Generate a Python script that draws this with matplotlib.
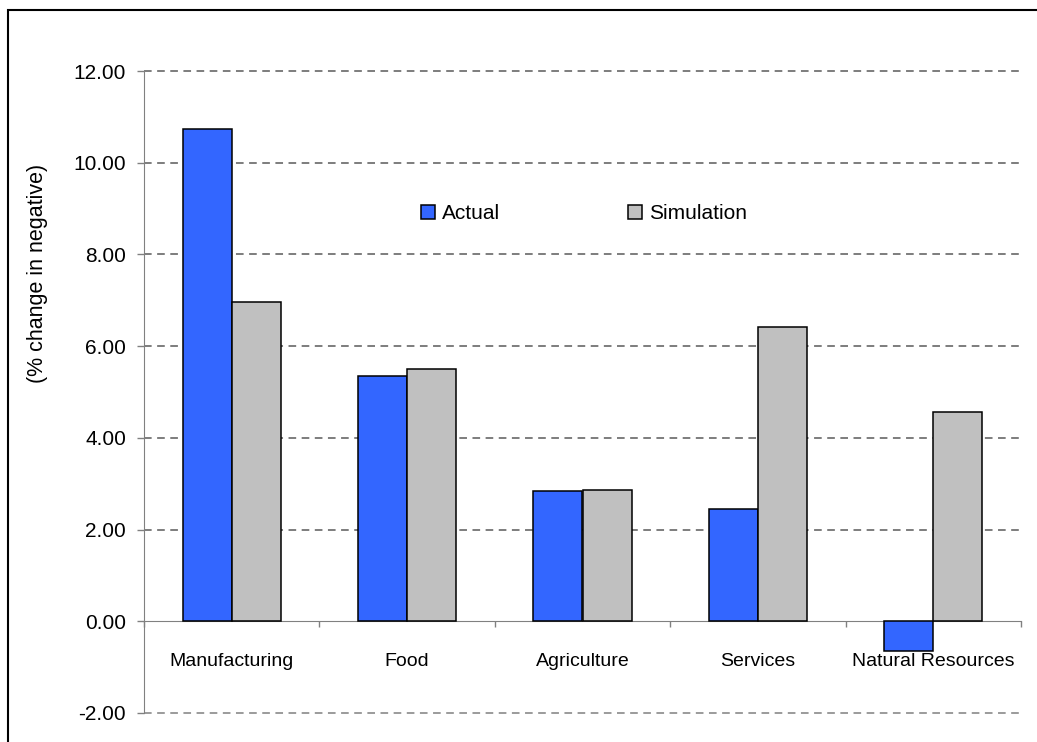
import matplotlib
matplotlib.use("Agg")
import matplotlib.pyplot as plt
from matplotlib.lines import Line2D
from matplotlib.patches import Rectangle
import numpy as np

# data
categories = ["Manufacturing", "Food", "Agriculture", "Services", "Natural Resources"]
actual = [10.74, 5.34, 2.84, 2.44, -0.65]
simulation = [6.96, 5.51, 2.87, 6.42, 4.57]
yticks = [-2, 0, 2, 4, 6, 8, 10, 12]

blue = "#3366FF"
grey = "#C0C0C0"

plt.rcParams["font.family"] = ["Liberation Sans", "DejaVu Sans"]
plt.rcParams["font.size"] = 14

W, H = 1037, 742
fig = plt.figure(figsize=(W / 100, H / 100), dpi=100)
ax = fig.add_axes([144 / W, 1 - 713 / H, (1021 - 144) / W, (713 - 71) / H])

x = np.arange(len(categories))
bw = 0.28
ax.bar(x - bw / 2, actual, bw, color=blue, edgecolor="black", linewidth=1.1, zorder=3)
ax.bar(x + bw / 2, simulation, bw, color=grey, edgecolor="black", linewidth=1.1, zorder=3)

ax.set_xlim(-0.5, len(categories) - 0.5)
ax.set_ylim(-2, 12)

# dashed gridlines at every major y tick
for t in yticks:
    if t == 0:
        continue
    c = "#808080" if t == -2 else "#5a5a5a"
    ax.axhline(t, color=c, linewidth=1.1, dashes=(5, 3.6), zorder=1, clip_on=False)

ax.set_yticks(yticks)
ax.set_yticklabels([f"{t:.2f}" for t in yticks], fontsize=15)
ax.tick_params(axis="y", direction="out", length=5, width=1, color="#808080", pad=8)

# x axis sits at zero, ticks at category boundaries
ax.spines["bottom"].set_position(("data", 0))
ax.spines["bottom"].set_color("#808080")
ax.spines["left"].set_color("#808080")
ax.spines["top"].set_visible(False)
ax.spines["right"].set_visible(False)
ax.set_xticks(np.arange(-0.5, len(categories), 1.0))
ax.set_xticklabels([])
ax.tick_params(axis="x", which="major", direction="out", length=4, width=1, color="#808080")
ax.set_xticks(x, minor=True)
ax.set_xticklabels(categories, minor=True, fontsize=14)
ax.tick_params(axis="x", which="minor", length=0, pad=23)

fig.text(38 / W, 1 - 273 / H, "(% change in negative)", rotation=90,
         ha="center", va="center", fontsize=15.5)

handles = [
    Line2D([], [], marker="s", linestyle="none", markersize=9.4,
           markerfacecolor=blue, markeredgecolor="black", markeredgewidth=1.1),
    Line2D([], [], marker="s", linestyle="none", markersize=9.4,
           markerfacecolor=grey, markeredgecolor="black", markeredgewidth=1.1),
]
ax.legend(handles, ["Actual", "Simulation"], ncol=2, loc="center left",
          bbox_to_anchor=(0.304, 0.778), frameon=False, borderpad=0,
          handlelength=0.625, handletextpad=0.37, columnspacing=6.15, fontsize=15)

# outer chart frame (cut off at right and bottom)
fig.patches.append(Rectangle((8 / W, -0.5), 1.5, 0.5 + 1 - 10 / H,
                             transform=fig.transFigure, fill=False,
                             edgecolor="black", linewidth=1.5))

fig.savefig("out.png", dpi=100)
